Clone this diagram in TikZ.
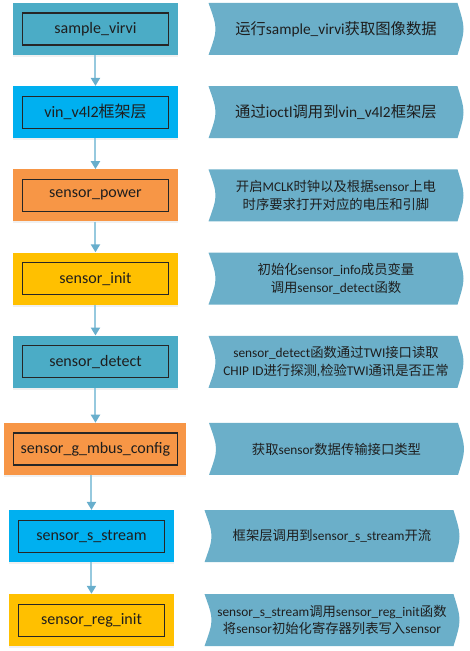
\documentclass[tikz,border=0pt]{standalone}
\usepackage{fontspec}
\setmainfont{Carlito}
\newfontfamily\cjk{Noto Sans CJK SC}
\usepackage{tikz}
\usetikzlibrary{positioning,calc,shadows,arrows.meta}

\definecolor{tealfill}{RGB}{75,172,198}
\definecolor{bluefill}{RGB}{0,176,240}
\definecolor{orangefill}{RGB}{247,150,70}
\definecolor{yellowfill}{RGB}{255,192,0}
\definecolor{descrfill}{RGB}{107,175,201}
\definecolor{flowline}{RGB}{150,201,222}
\definecolor{flowtip}{RGB}{104,174,204}
\definecolor{txt}{RGB}{30,30,30}

\begin{document}
\begin{tikzpicture}[
	font=\fontsize{12}{12.75}\selectfont,
	text=txt,
	rect/.style={
		rectangle,
		minimum width=123.75pt,
		minimum height=39pt,
		inner sep=0pt,
		drop shadow={opacity=.12,shadow xshift=0pt,shadow yshift=-1.5pt},
	},
	tealrect/.style={
		rect,
		fill=tealfill,
	},
	bluerect/.style={
		rect,
		fill=bluefill,
	},
	orangerect/.style={
		rect,
		fill=orangefill,
	},
	yellowrect/.style={
		rect,
		fill=yellowfill,
	},
	inrect/.style={
		draw=black!85,
		line width=.8pt,
		minimum width=109.5pt,
		minimum height=24pt,
		inner sep=0pt,
	},
	descr/.style={
		minimum width=191.25pt,
		minimum height=39pt,
		inner sep=0pt,
		align=center,
		font=\fontsize{11.5}{13}\selectfont,
		path picture={
			\fill[descrfill] (path picture bounding box.north west)
				.. controls ($(path picture bounding box.west)+(7pt,0)$) .. (path picture bounding box.south west)
				-- ($(path picture bounding box.south east)+(-4.5pt,0)$)
				.. controls ($(path picture bounding box.east)+(1.5pt,0)$) .. ($(path picture bounding box.north east)+(-4.5pt,0)$)
				-- cycle;
		},
	},
	descrsmall/.style={
		descr,
		font=\fontsize{10}{13}\selectfont,
	},
	flow/.style={
		draw=flowline,
		line width=1.5pt,
		-{Triangle[width=6.75pt,length=6pt,color=flowtip]},
	},
]
\useasboundingbox (0,0) rectangle (351.75pt,488.25pt);

% call chain, left column
\node [tealrect] (virvi) at (71.6pt,466.5pt) {};
\node [inrect] (virviIn) at (virvi) {sample\_virvi};
%
\node [bluerect, below=23pt of virvi] (vinlay) {};
\node [inrect] (vinlayIn) at (vinlay) {vin\_v4l2{\cjk 框架层}};
%
\node [orangerect, below=23pt of vinlay] (power) {};
\node [inrect] (powerIn) at (power) {sensor\_power};
%
\node [yellowrect, below=23pt of power] (init) {};
\node [inrect] (initIn) at (init) {sensor\_init};
%
\node [tealrect, below=23pt of init] (detect) {};
\node [inrect] (detectIn) at (detect) {sensor\_detect};
%
\node [orangerect, below=26pt of detect, minimum width=136.5pt] (mbus) {};
\node [inrect, minimum width=123pt] (mbusIn) at (mbus) {sensor\_g\_mbus\_config};
%
\node [bluerect, below=26pt of mbus, xshift=-3pt] (stream) {};
\node [inrect] (streamIn) at (stream) {sensor\_s\_stream};
%
\node [yellowrect, below=23.5pt of stream] (reginit) {};
\node [inrect] (reginitIn) at (reginit) {sensor\_reg\_init};

% explanations, right column
\node [descr, right=22.5pt of virvi] (virviD) {{\cjk 运行}sample\_virvi{\cjk 获取图像数据}};
\node [descr, right=22.5pt of vinlay] (vinlayD) {{\cjk 通过}ioctl{\cjk 调用到}vin\_v4l2{\cjk 框架层}};
\node [descrsmall, right=22.5pt of power] (powerD) {{\cjk 开启}MCLK{\cjk 时钟以及根据}sensor{\cjk 上电}\\{\cjk 时序要求打开对应的电压和引脚}};
\node [descrsmall, right=22.5pt of init] (initD) {{\cjk 初始化}sensor\_info{\cjk 成员变量}\\{\cjk 调用}sensor\_detect{\cjk 函数}};
\node [descrsmall, right=22.5pt of detect] (detectD) {sensor\_detect{\cjk 函数通过}TWI{\cjk 接口读取}\\CHIP ID{\cjk 进行探测},{\cjk 检验}TWI{\cjk 通讯是否正常}};
\node [descrsmall, right=16.5pt of mbus] (mbusD) {{\cjk 获取}sensor{\cjk 数据传输接口类型}};
\node [descrsmall, right=22.5pt of stream] (streamD) {{\cjk 框架层调用到}sensor\_s\_stream{\cjk 开流}};
\node [descrsmall, right=22.5pt of reginit] (reginitD) {sensor\_s\_stream{\cjk 调用}sensor\_reg\_init{\cjk 函数}\\{\cjk 将}sensor{\cjk 初始化寄存器列表写入}sensor};

\draw [flow] (virvi) -- (vinlay);
\draw [flow] (vinlay) -- (power);
\draw [flow] (power) -- (init);
\draw [flow] (init) -- (detect);
\draw [flow] (detect) -- (mbus);
\draw [flow] (mbus.south -| stream) -- (stream);
\draw [flow] (stream) -- (reginit);
\end{tikzpicture}
\end{document}
